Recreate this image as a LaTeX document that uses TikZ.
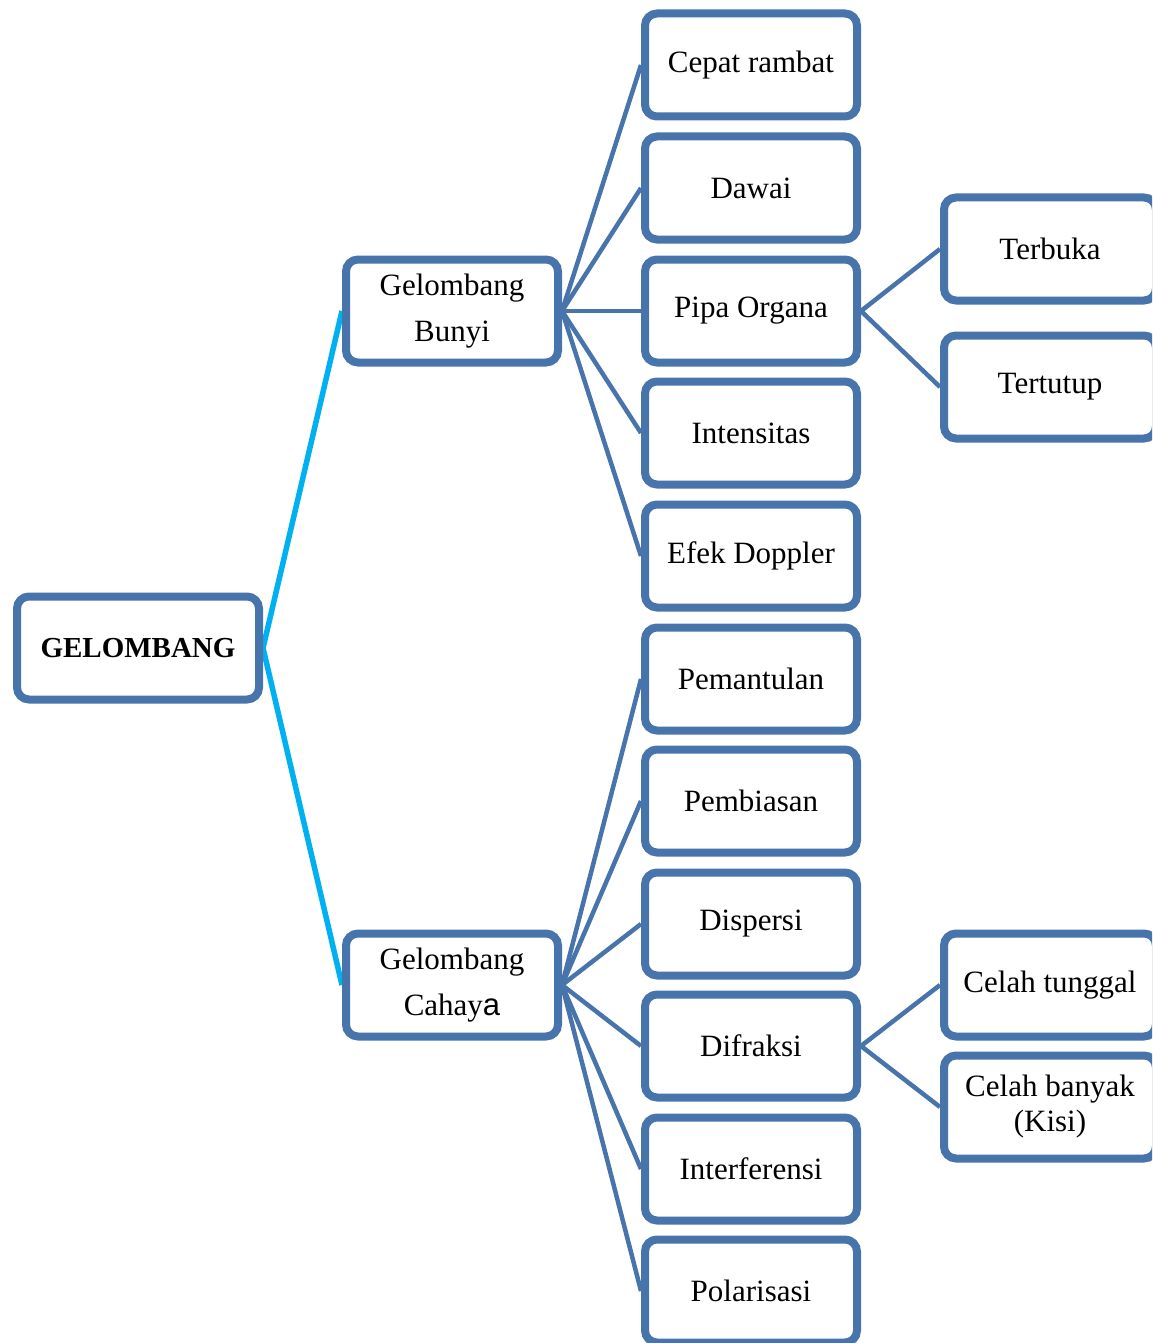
\documentclass[tikz,border=0pt]{standalone}
\usepackage{fontspec}
\setmainfont{Liberation Serif}
\setsansfont{Liberation Sans}
\usetikzlibrary{shadows,backgrounds}
\definecolor{bordr}{RGB}{72,116,172}
\definecolor{cyanl}{RGB}{0,176,240}
\tikzset{
  box/.style={draw=bordr, line width=8pt, rounded corners=12pt, fill=white,
    minimum width=212pt, minimum height=103pt, align=center, inner sep=0pt,
    font=\fontsize{31}{46}\selectfont,
    drop shadow={opacity=0.18, shadow xshift=3pt, shadow yshift=-3pt}},
  link/.style={draw=bordr, line width=4.5pt},
  mainlink/.style={draw=cyanl, line width=5.5pt}
}
\begin{document}
\begin{tikzpicture}[x=1pt,y=-1pt]
\useasboundingbox (0,0) rectangle (1152,1343);
\clip (0,0) rectangle (1152,1343);
\node[box, font=\bfseries\fontsize{29}{34}\selectfont, minimum width=242pt] (root) at (138,648) {GELOMBANG};
\node[box] (bunyi) at (452,311) {Gelombang\\Bunyi};
\node[box] (cahaya) at (452,985) {Gelombang\\Cahay{\sffamily a}};
\node[box] (b1) at (751,65) {Cepat rambat};
\node[box] (b2) at (751,188) {Dawai};
\node[box] (b3) at (751,311) {Pipa Organa};
\node[box] (b4) at (751,433) {Intensitas};
\node[box] (b5) at (751,556) {Efek Doppler};
\node[box] (c1) at (751,679) {Pemantulan};
\node[box] (c2) at (751,801) {Pembiasan};
\node[box] (c3) at (751,924) {Dispersi};
\node[box] (c4) at (751,1046) {Difraksi};
\node[box] (c5) at (751,1169) {Interferensi};
\node[box] (c6) at (751,1291) {Polarisasi};
\node[box] (p1) at (1050,249) {Terbuka};
\node[box] (p2) at (1050,387) {Tertutup};
\node[box] (d1) at (1050,985) {Celah tunggal};
\node[box, font=\fontsize{31}{35}\selectfont] (d2) at (1050,1107) {Celah banyak\\(Kisi)};
\begin{scope}[on background layer]
\draw[mainlink] (root.east) -- (bunyi.west);
\draw[mainlink] (root.east) -- (cahaya.west);
\foreach \n in {b1,b2,b3,b4,b5} \draw[link] (bunyi.east) -- (\n.west);
\foreach \n in {c1,c2,c3,c4,c5,c6} \draw[link] (cahaya.east) -- (\n.west);
\draw[link] (b3.east) -- (p1.west);
\draw[link] (b3.east) -- (p2.west);
\draw[link] (c4.east) -- (d1.west);
\draw[link] (c4.east) -- (d2.west);
\end{scope}
\end{tikzpicture}
\end{document}
